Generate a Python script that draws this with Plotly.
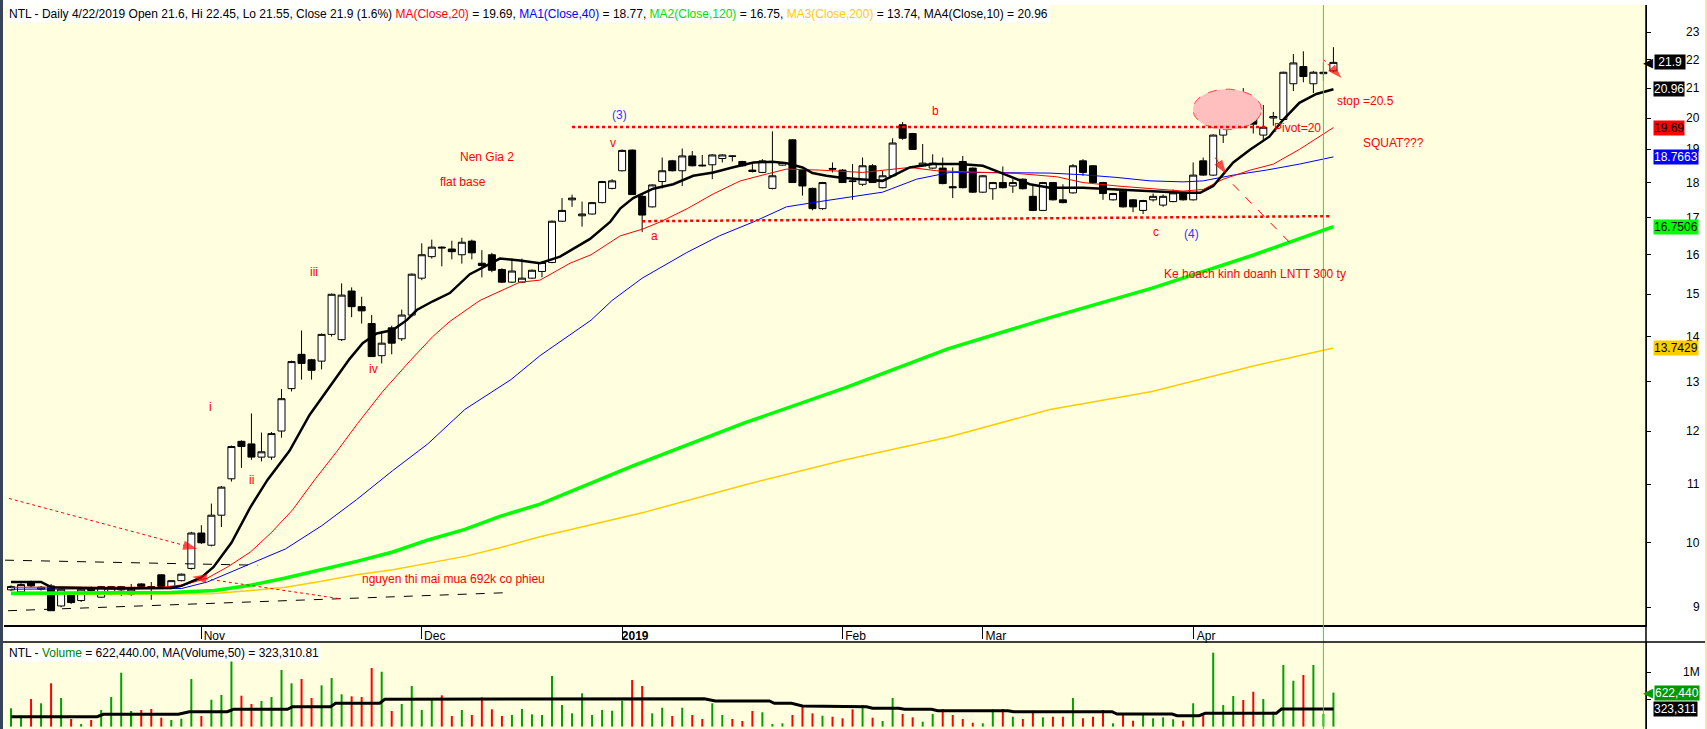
import numpy as np
import pandas as pd
import plotly.graph_objects as go

W, H = 1707, 729

# trading days shown (Oct 5 2018 .. Apr 22 2019), exchange closures removed
closed_days = ["2018-12-31", "2019-01-01", "2019-02-01", "2019-02-04", "2019-02-05",
               "2019-02-06", "2019-02-07", "2019-02-08", "2019-04-15"]
dates = [d for d in pd.bdate_range("2018-10-05", "2019-04-22")
         if d.strftime("%Y-%m-%d") not in closed_days]
month_labels = {11: "Nov", 12: "Dec", 1: "<b>2019</b>", 2: "Feb", 3: "Mar", 4: "Apr"}

opens = [9.26, 9.23, 9.38, 9.27, 9.32, 9.02, 9.19, 9.10, 9.29, 9.15,
         9.20, 9.26, 9.19, 9.35, 9.31, 9.49, 9.31, 9.40, 9.59, 10.16,
         9.96, 10.46, 11.10, 11.80, 11.75, 11.50, 11.50, 12.00, 12.86, 13.60,
         13.48, 13.45, 14.05, 13.93, 15.08, 14.70, 14.30, 13.57, 14.20, 13.95,
         14.50, 15.40, 15.95, 16.20, 16.15, 16.00, 16.36, 15.78, 16.00, 15.62,
         15.30, 15.30, 15.40, 15.57, 15.80, 16.90, 17.50, 17.05, 17.10, 17.42,
         17.83, 18.35, 18.98, 17.60, 17.30, 18.03, 18.65, 18.35, 18.80, 18.52,
         18.53, 18.72, 18.80, 18.63, 18.37, 18.30, 17.83, 18.52, 19.30, 18.37,
         17.83, 17.25, 18.42, 18.37, 18.05, 17.95, 18.50, 17.85, 18.20, 19.78,
         19.50, 18.50, 18.43, 18.43, 17.88, 18.63, 18.43, 17.72, 17.82, 18.00,
         17.90, 18.10, 17.60, 17.20, 18.00, 17.50, 17.70, 18.65, 18.50, 18.00,
         17.50, 17.75, 17.50, 17.20, 17.50, 17.35, 17.45, 17.70, 17.50, 18.65,
         18.22, 19.45, 19.98, 20.63, 20.50, 19.45, 20.00, 19.95, 21.15, 21.75,
         21.15, 21.50, 21.60]
highs = [9.33, 9.36, 9.40, 9.32, 9.35, 9.28, 9.21, 9.28, 9.31, 9.32,
         9.32, 9.32, 9.35, 9.36, 9.38, 9.50, 9.41, 9.51, 10.18, 10.29,
         10.66, 10.97, 11.72, 11.82, 12.35, 11.97, 11.98, 12.85, 13.46, 14.14,
         13.50, 14.07, 15.02, 15.27, 15.17, 14.94, 14.50, 14.13, 14.25, 14.63,
         15.52, 16.30, 16.40, 16.22, 16.37, 16.45, 16.40, 16.12, 16.05, 15.65,
         15.90, 15.90, 15.62, 15.82, 16.92, 17.55, 17.65, 17.45, 17.44, 18.05,
         18.10, 19.00, 19.00, 17.65, 17.95, 18.75, 18.68, 19.03, 18.95, 18.83,
         18.85, 18.85, 18.82, 18.65, 18.55, 18.70, 19.57, 18.62, 19.32, 18.40,
         17.85, 18.02, 18.60, 18.40, 18.55, 18.75, 18.55, 18.35, 19.35, 19.87,
         19.52, 19.17, 18.85, 18.75, 18.45, 18.80, 18.45, 18.22, 18.02, 18.48,
         18.10, 18.12, 17.95, 18.02, 18.02, 17.95, 18.55, 18.70, 18.52, 18.02,
         17.70, 17.78, 17.52, 17.50, 17.68, 17.65, 17.80, 17.72, 18.60, 18.75,
         19.47, 19.82, 20.92, 21.00, 20.70, 20.43, 20.20, 21.57, 22.20, 22.30,
         21.60, 21.90, 22.45]
lows = [9.24, 9.21, 9.30, 9.25, 8.95, 9.00, 9.05, 9.08, 9.22, 9.14,
        9.18, 9.17, 9.17, 9.30, 9.11, 9.30, 9.30, 9.39, 9.57, 9.98,
        9.94, 10.26, 11.05, 11.30, 11.45, 11.42, 11.45, 11.87, 12.80, 13.05,
        13.05, 13.27, 14.00, 13.90, 14.45, 14.30, 13.55, 13.40, 13.60, 13.90,
        14.45, 15.35, 15.90, 15.70, 15.88, 15.77, 15.88, 15.42, 15.55, 15.28,
        15.28, 15.28, 15.38, 15.42, 15.78, 16.88, 17.30, 16.75, 17.08, 17.40,
        17.80, 18.33, 17.65, 16.60, 17.28, 17.83, 18.33, 17.90, 18.48, 18.48,
        18.10, 18.60, 18.63, 18.48, 18.30, 18.28, 17.80, 18.50, 18.00, 17.62,
        17.20, 17.22, 18.30, 18.00, 17.50, 17.90, 18.00, 17.83, 18.18, 19.30,
        19.00, 18.48, 18.40, 17.95, 17.55, 17.83, 17.70, 17.70, 17.50, 17.83,
        17.70, 17.80, 17.18, 17.18, 17.48, 17.40, 17.68, 18.20, 17.98, 17.50,
        17.48, 17.28, 17.15, 17.10, 17.45, 17.30, 17.43, 17.48, 17.48, 18.20,
        18.20, 19.20, 19.85, 20.20, 19.50, 19.25, 19.75, 19.93, 20.90, 21.20,
        20.83, 21.25, 21.55]
closes = [9.31, 9.34, 9.32, 9.30, 8.95, 9.27, 9.07, 9.27, 9.25, 9.31,
          9.31, 9.31, 9.27, 9.31, 9.30, 9.31, 9.40, 9.50, 10.16, 10.00,
          10.46, 10.95, 11.70, 11.70, 11.50, 11.60, 11.95, 12.65, 13.44, 13.40,
          13.25, 14.05, 15.00, 14.98, 14.70, 14.60, 13.55, 13.85, 13.85, 14.50,
          15.50, 16.00, 16.20, 16.18, 16.08, 16.33, 16.05, 15.72, 15.60, 15.30,
          15.58, 15.40, 15.60, 15.80, 16.90, 17.20, 17.55, 17.10, 17.42, 18.03,
          18.05, 18.97, 17.65, 17.07, 17.93, 18.35, 18.35, 18.80, 18.50, 18.50,
          18.83, 18.83, 18.79, 18.50, 18.33, 18.65, 18.20, 18.60, 18.00, 17.90,
          17.25, 18.00, 18.40, 18.00, 18.03, 18.50, 18.00, 18.20, 19.20, 19.35,
          19.00, 18.58, 18.58, 17.97, 17.85, 17.85, 17.72, 18.20, 18.00, 17.85,
          18.00, 17.82, 17.20, 18.00, 17.50, 17.42, 18.50, 18.30, 18.00, 17.68,
          17.68, 17.30, 17.30, 17.48, 17.60, 17.60, 17.70, 17.50, 18.22, 18.22,
          19.45, 19.80, 20.63, 20.50, 19.80, 19.70, 20.05, 21.55, 21.88, 21.40,
          21.55, 21.55, 21.90]
volumes = [335000, 181000, 505000, 427000, 793000, 524000, 139000, 48000, 121000, 304000,
           542000, 987000, 286000, 304000, 322000, 163000, 121000, 145000, 872000, 194000,
           493000, 579000, 1220000, 566000, 414000, 469000, 542000, 1037000, 793000, 872000,
           524000, 756000, 890000, 591000, 555000, 542000, 1073000, 1005000, 286000, 414000,
           744000, 304000, 487000, 573000, 194000, 304000, 212000, 536000, 317000, 194000,
           212000, 322000, 225000, 212000, 927000, 396000, 243000, 610000, 212000, 304000,
           291000, 474000, 853000, 744000, 243000, 346000, 194000, 346000, 212000, 139000,
           427000, 212000, 139000, 103000, 286000, 262000, 48000, 60000, 212000, 364000,
           243000, 200000, 181000, 152000, 317000, 396000, 163000, 103000, 524000, 231000,
           170000, 90000, 231000, 322000, 212000, 139000, 71000, 60000, 317000, 322000,
           181000, 139000, 291000, 170000, 181000, 181000, 524000, 152000, 181000, 304000,
           60000, 212000, 108000, 212000, 152000, 170000, 134000, 108000, 427000, 200000,
           1354000, 396000, 560000, 487000, 639000, 505000, 273000, 1128000, 841000, 945000,
           1128000, 231000, 622440]

# moving averages (bar position, value)
ma10_x = [0, 3, 4, 10, 16, 17, 19, 20.2, 22, 23.9, 25.6, 27.8, 29.8, 31.8, 33.8, 35.1, 36.5,
          38.1, 39.5, 40.5, 42.1, 43.8, 45.8, 48.8, 50.8, 52.8, 54.8, 57.8, 59.8, 60.8, 62.1,
          64.1, 66.1, 68.1, 70.1, 72, 74.1, 76, 77.4, 79, 80, 81.4, 82.7, 84.7, 87, 89.7, 92,
          94.7, 97, 98.7, 100.4, 101.7, 103.7, 107, 110.4, 113.7, 117, 118.7, 120, 122, 123.7,
          125.6, 127, 128.6, 130.3, 132]
ma10_y = [9.38, 9.38, 9.30, 9.28, 9.29, 9.32, 9.45, 9.61, 10.0, 10.6, 11.08, 11.62, 12.32,
          12.9, 13.5, 13.85, 14.07, 14.15, 14.38, 14.62, 14.83, 15.03, 15.5, 15.9, 15.85, 15.78,
          15.95, 16.42, 16.88, 17.25, 17.55, 17.82, 17.95, 18.2, 18.3, 18.45, 18.6, 18.62,
          18.58, 18.45, 18.28, 18.2, 18.15, 18.1, 18.05, 18.45, 18.55, 18.55, 18.5, 18.3, 18.1,
          17.95, 17.85, 17.85, 17.8, 17.75, 17.7, 17.7, 17.9, 18.6, 19.0, 19.4, 19.95, 20.5,
          20.8, 20.96]
ma20_x = [0, 15, 17.4, 19.6, 21.7, 23.9, 26, 28.1, 30.3, 32.5, 34.6, 37.1, 39.8, 42.1, 43.8,
          46.8, 50.8, 52.8, 55.8, 57.9, 60.8, 63, 64.8, 67.5, 70.1, 72.8, 75.4, 77.4, 80.7, 85,
          89.7, 92.4, 97, 100.4, 104.4, 107, 110.4, 113.7, 117, 119, 121, 123.7, 126, 128.6, 132]
ma20_y = [9.30, 9.30, 9.34, 9.44, 9.62, 9.85, 10.17, 10.55, 11.08, 11.6, 12.15, 12.8, 13.45,
          14.0, 14.35, 14.85, 15.3, 15.35, 15.78, 16.0, 16.5, 16.68, 16.88, 17.25, 17.67, 18.05,
          18.25, 18.4, 18.37, 18.3, 18.45, 18.35, 18.3, 18.27, 18.17, 18.0, 17.9, 17.82, 17.75,
          17.8, 18.1, 18.37, 18.55, 19.0, 19.69]
ma40_x = [0, 17, 19.6, 23.9, 27.4, 31, 34.5, 38.1, 41.6, 45.3, 49.9, 52.8, 57.9, 60, 63, 67.4,
          70.7, 74.1, 77.4, 80.7, 84, 87, 90.4, 93.7, 97, 100.4, 103.7, 107, 110.4, 113.7, 117,
          119, 122, 125.3, 128.6, 132]
ma40_y = [9.27, 9.28, 9.38, 9.66, 9.9, 10.28, 10.73, 11.25, 11.75, 12.43, 13.05, 13.57, 14.38,
          14.85, 15.4, 16.05, 16.5, 16.88, 17.3, 17.45, 17.6, 17.72, 18.1, 18.3, 18.3, 18.3,
          18.28, 18.23, 18.15, 18.05, 18.02, 18.05, 18.22, 18.37, 18.55, 18.77]
ma120_x = [0, 16, 20.3, 23.9, 27.4, 31, 34.5, 38.1, 41.7, 45.3, 48.8, 52.8, 62, 73.2, 83.3,
           93.5, 103.7, 113.9, 124.1, 132]
ma120_y = [9.21, 9.22, 9.25, 9.33, 9.44, 9.57, 9.70, 9.85, 10.05, 10.22, 10.44, 10.65, 11.33,
           12.16, 12.88, 13.72, 14.44, 15.15, 16.0, 16.75]
ma200_x = [0, 20, 23.9, 27.4, 31, 34.5, 38.1, 41.7, 45.3, 48.8, 52.8, 63, 73.2, 83.3, 93.5,
           103.7, 113.9, 124.1, 132]
ma200_y = [9.19, 9.20, 9.25, 9.30, 9.39, 9.49, 9.57, 9.68, 9.78, 9.92, 10.1, 10.5, 10.99,
           11.45, 11.88, 12.43, 12.8, 13.35, 13.74]
vma_x = [0, 8.6, 9.2, 16.7, 17.8, 21.6, 22.2, 27.6, 28.1, 31.9, 32.4, 36.8, 37.3, 58.4, 58.9,
         69.2, 70.3, 75.7, 76.2, 77.9, 79, 83.3, 85.4, 86, 88.6, 89.2, 91.9, 92.5, 99.5, 100.1,
         109.9, 110.4, 115.9, 116.4, 118.6, 119.2, 126.3, 126.8, 132]
vma_y = [181000, 181000, 225000, 225000, 273000, 273000, 317000, 317000, 364000, 364000,
         427000, 427000, 500000, 500000, 511000, 511000, 469000, 469000, 427000, 427000,
         377000, 377000, 364000, 335000, 335000, 317000, 317000, 291000, 291000, 273000,
         273000, 231000, 231000, 200000, 200000, 243000, 243000, 322000, 323311]

price_ticks = [9, 10, 11, 12, 13, 14, 15, 16, 17, 18, 19, 20, 21, 22, 23]

# last-value tags on the right axis: (value, text, background, text colour)
price_tags = [(20.96, "20.96", "#000000", "white"), (19.69, "19.69", "#FF0000", "black"),
              (18.7663, "18.7663", "#0000FF", "white"), (16.7506, "16.7506", "#00FF00", "black"),
              (13.7429, "13.7429", "#FFCC00", "black")]

# hand-drawn notes on the chart: (bar, price, text, colour)
notes = [(60.7, 20.1, "(3)", "#3333FF"), (60.1, 19.2, "v", "red"), (47.5, 18.77, "Nen Gia 2", "red"),
         (45.1, 18.03, "flat base", "red"), (64.2, 16.5, "a", "red"), (92.3, 20.23, "b", "red"),
         (114.3, 16.6, "c", "red"), (117.8, 16.55, "(4)", "#3333FF"),
         (128.4, 19.67, "Pivot=20", "red"), (135.2, 20.55, "stop =20.5", "red"),
         (138.0, 19.2, "SQUAT???", "red"), (124.2, 15.5, "Ke hoach kinh doanh LNTT 300 ty", "red"),
         (19.9, 12.47, "i", "red"), (24.05, 11.08, "ii", "red"), (30.2, 15.56, "iii", "red"),
         (36.2, 13.27, "iv", "red"), (44.2, 9.43, "nguyen thi mai mua 692k co phieu", "red")]

x = list(range(len(dates)))
vol_colors = ["#00A000" if c >= o else "#FF0000" for o, c in zip(opens, closes)]
FONT = "Liberation Sans, Arial, sans-serif"

fig = go.Figure()

# pink highlight ellipse (behind the candles)
t = np.linspace(0, 2 * np.pi, 90)
fig.add_trace(go.Scatter(x=121.4 + 3.42 * np.cos(t),
                         y=10 ** (np.log10(20.28) + 0.0144 * np.sin(t)),
                         mode="lines", fill="toself", fillcolor="#FFBFBF",
                         line=dict(color="#FF4040", width=1, dash="dash"),
                         xaxis="x", yaxis="y", hoverinfo="skip"))

fig.add_trace(go.Candlestick(x=x, open=opens, high=highs, low=lows, close=closes,
                             increasing=dict(line=dict(color="black", width=1), fillcolor="white"),
                             decreasing=dict(line=dict(color="black", width=1), fillcolor="black"),
                             whiskerwidth=0, xaxis="x", yaxis="y"))

for mx, my, col, w in [(ma200_x, ma200_y, "#FFCC00", 1.5), (ma120_x, ma120_y, "#00FF00", 3.5),
                       (ma40_x, ma40_y, "#0000FF", 1), (ma20_x, ma20_y, "#FF0000", 1),
                       (ma10_x, ma10_y, "#000000", 2.5)]:
    fig.add_trace(go.Scatter(x=mx, y=my, mode="lines", line=dict(color=col, width=w),
                             xaxis="x", yaxis="y", hoverinfo="skip"))

# drawn trend lines
def seg(xs, ys, color, width, dash, arrow=False):
    fig.add_trace(go.Scatter(
        x=xs, y=ys, mode="lines+markers" if arrow else "lines",
        line=dict(color=color, width=width, dash=dash),
        marker=dict(symbol="arrow", angleref="previous", size=[0] * (len(xs) - 1) + [15],
                    color=color, line=dict(width=0)) if arrow else None,
        xaxis="x", yaxis="y", hoverinfo="skip"))

seg([56, 125.4], [19.71, 19.71], "#FF0000", 2.5, "dot")
seg([63, 131.8], [16.9, 17.04], "#FF0000", 2.5, "dot")
seg([-0.6, 24.6], [9.72, 9.64], "#000000", 1, "dash")
seg([-0.3, 49.9], [8.95, 9.22], "#000000", 1, "dash")
seg([-0.2, 18.6], [10.75, 9.9], "#FF0000", 1, "dot", arrow=True)
seg([32.7, 18.1], [9.13, 9.46], "#FF0000", 1, "dot", arrow=True)
seg([121.96, 127.9], [17.95, 16.25], "#FF0000", 1, "dash")
seg([120.2, 121.3], [18.75, 18.25], "#FF0000", 1, "solid", arrow=True)
seg([131.0, 132.8], [22.0, 21.35], "#FF0000", 1, "dot", arrow=True)

fig.add_trace(go.Bar(x=x, y=volumes, marker=dict(color=vol_colors, line=dict(width=0)),
                     width=0.2, xaxis="x2", yaxis="y2", hoverinfo="skip"))
fig.add_trace(go.Scatter(x=vma_x, y=vma_y, mode="lines", line=dict(color="black", width=3),
                         xaxis="x2", yaxis="y2", hoverinfo="skip"))

# month ticks at the first bar of every month
tick_idx, tick_txt = [], []
for i, d in enumerate(dates):
    if i > 0 and d.month != dates[i - 1].month:
        tick_idx.append(i)
        tick_txt.append(month_labels[d.month])

x_dom = [4 / W, 1646 / W]
x_rng = [-0.7, 163.2]

anns = []
anns.append(dict(
    xref="paper", yref="paper", x=7 / W, y=1 - 5 / H, xanchor="left", yanchor="top",
    showarrow=False, bgcolor="white", borderpad=1, font=dict(size=12, color="black"),
    text=('NTL - Daily 4/22/2019 Open 21.6, Hi 22.45, Lo 21.55, Close 21.9 (1.6%) '
          '<span style="color:#FF0000">MA(Close,20)</span> = 19.69, '
          '<span style="color:#0000FF">MA1(Close,40)</span> = 18.77, '
          '<span style="color:#00E000">MA2(Close,120)</span> = 16.75, '
          '<span style="color:#FFCC00">MA3(Close,200)</span> = 13.74, '
          'MA4(Close,10) = 20.96')))
anns.append(dict(
    xref="paper", yref="paper", x=7 / W, y=1 - 644 / H, xanchor="left", yanchor="top",
    showarrow=False, bgcolor="white", borderpad=1, font=dict(size=12, color="black"),
    text='NTL - <span style="color:#008000">Volume</span> = 622,440.00, MA(Volume,50) = 323,310.81'))

for v in price_ticks:
    anns.append(dict(xref="paper", yref="y", x=1702 / W, y=np.log10(v), xanchor="right",
                     yanchor="middle", showarrow=False, text=str(v), font=dict(size=12)))
anns.append(dict(xref="paper", yref="y2", x=1702 / W, y=1000000, xanchor="right",
                 yanchor="middle", showarrow=False, text="1M", font=dict(size=12)))

for v, txt, bg, fg in price_tags:
    anns.append(dict(xref="paper", yref="y", x=1653 / W, y=np.log10(v), xanchor="left",
                     yanchor="middle", showarrow=False, text=txt, bgcolor=bg, borderpad=0,
                     font=dict(size=12, color=fg)))
anns.append(dict(xref="paper", yref="y", x=1654 / W, y=np.log10(closes[-1]), xanchor="left",
                 yanchor="middle", showarrow=False, text=f" {closes[-1]} ", bgcolor="black",
                 borderpad=0, font=dict(size=12, color="white")))
anns.append(dict(xref="paper", yref="y", x=1655 / W, y=np.log10(closes[-1]), xanchor="right",
                 yanchor="middle", showarrow=False, text="◀", font=dict(size=13, color="black")))
anns.append(dict(xref="paper", yref="y2", x=1654 / W, y=volumes[-1], xanchor="left",
                 yanchor="middle", showarrow=False, text=f"{volumes[-1]:,}", bgcolor="#009900",
                 borderpad=0, font=dict(size=12, color="white")))
anns.append(dict(xref="paper", yref="y2", x=1655 / W, y=volumes[-1], xanchor="right",
                 yanchor="middle", showarrow=False, text="◀", font=dict(size=13, color="#009900")))
anns.append(dict(xref="paper", yref="y2", x=1653 / W, y=vma_y[-1], xanchor="left",
                 yanchor="middle", showarrow=False, text=f"{vma_y[-1]:,}", bgcolor="black",
                 borderpad=0, font=dict(size=12, color="white")))

for bx, by, txt, col in notes:
    anns.append(dict(xref="x", yref="y", x=bx, y=np.log10(by), showarrow=False, text=txt,
                     font=dict(size=12, color=col), xanchor="center", yanchor="middle"))

shapes = [
    # cursor line on the selected bar
    dict(type="line", xref="x", yref="paper", x0=131, x1=131, y0=0, y1=1 - 5 / H,
         line=dict(color="#00FF00", width=1)),
    # pane separators and frame
    dict(type="line", xref="paper", yref="paper", x0=0, x1=1, y0=1 - 642 / H, y1=1 - 642 / H,
         line=dict(color="black", width=1.5)),
    dict(type="line", xref="paper", yref="paper", x0=1646 / W, x1=1646 / W, y0=0, y1=1 - 5 / H,
         line=dict(color="black", width=1.5)),
    dict(type="rect", xref="paper", yref="paper", x0=0, x1=3 / W, y0=0, y1=1,
         fillcolor="#37445A", line=dict(width=0)),
    dict(type="rect", xref="paper", yref="paper", x0=1705 / W, x1=1, y0=0, y1=1,
         fillcolor="#FBE3A8", line=dict(width=0)),
]

fig.update_layout(
    width=W, height=H, margin=dict(l=0, r=0, t=0, b=0),
    paper_bgcolor="white", plot_bgcolor="#FFFFE0", showlegend=False, hovermode=False,
    font=dict(family=FONT, size=12, color="black"),
    boxgap=0.3, boxgroupgap=0,
    xaxis=dict(domain=x_dom, range=x_rng, anchor="y", tickvals=tick_idx, ticktext=tick_txt,
               ticks="outside", ticklen=12, tickcolor="black", tickwidth=1,
               ticklabelshift=13, ticklabelstandoff=-13, tickfont=dict(size=12),
               showline=True, linecolor="black", linewidth=1.5, showgrid=False,
               zeroline=False, rangeslider=dict(visible=False)),
    yaxis=dict(domain=[1 - 625 / H, 1 - 5 / H], type="log",
               range=[np.log10(8.744), np.log10(24.05)], side="right", anchor="x",
               tickvals=price_ticks, showticklabels=False, ticks="outside", ticklen=4,
               tickcolor="black", showline=True, linecolor="black", showgrid=False,
               zeroline=False),
    xaxis2=dict(domain=x_dom, range=x_rng, anchor="y2", matches="x", showticklabels=False,
                ticks="", showgrid=False, zeroline=False, showline=False),
    yaxis2=dict(domain=[0, 1 - 642 / H], range=[-44000, 1549500], side="right", anchor="x2",
                tickvals=[500000, 1000000], showticklabels=False, ticks="outside", ticklen=4,
                tickcolor="black", showline=True, linecolor="black", showgrid=False,
                zeroline=False),
    annotations=anns,
    shapes=shapes,
)

# the page has no body margin, so the 1707x729 figure fills the window exactly
fig.write_html("out.html", config={"displayModeBar": False},
               post_script="document.body.style.margin='0';document.body.style.overflow='hidden';")
